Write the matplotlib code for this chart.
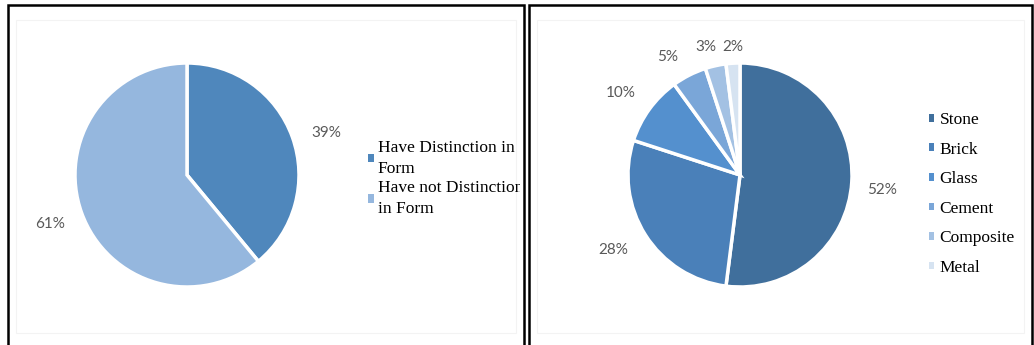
import matplotlib
matplotlib.use('Agg')
import matplotlib.pyplot as plt
from matplotlib.patches import Rectangle, Patch

# data
form_labels = ['Have Distinction in\nForm', 'Have not Distinction\nin Form']
form_values = [39, 61]
form_colors = ['#4F87BC', '#95B7DE']

material_labels = ['Stone', 'Brick', 'Glass', 'Cement', 'Composite', 'Metal']
material_values = [52, 28, 10, 5, 3, 2]
material_colors = ['#406F9C', '#4A80B9', '#5490CE', '#7AA6D8', '#A3C1E3', '#D6E3F1']

W, H = 1034, 345
R = 112  # pie radius in pixels
fig = plt.figure(figsize=(W / 100, H / 100), dpi=100)


def px_axes(cx, cy, r):
    # axes square around pie center, given in pixels (y from top)
    return fig.add_axes([(cx - r) / W, 1 - (cy + r) / H, 2 * r / W, 2 * r / H])


def nudge(t, dx, dy):
    # shift a label by pixels (dy downwards)
    x, y = t.get_position()
    t.set_position((x + dx / R, y - dy / R))


pct_font = dict(fontsize=11, color='#595959', family='Lato')
leg_font = dict(family='Liberation Serif', size=12.5)

# ---- left panel ----
ax1 = px_axes(187, 175, R)
w1, t1 = ax1.pie(form_values, colors=form_colors, startangle=90, counterclock=False,
                 labels=[f'{v}%' for v in form_values], labeldistance=1.3,
                 wedgeprops=dict(edgecolor='white', linewidth=2.5), textprops=pct_font)
for t in t1:
    t.set_ha('center')
nudge(t1[0], 2, 7)
ax1.set_xlim(-1, 1)
ax1.set_ylim(-1, 1)

h1 = [Patch(facecolor=c, edgecolor='none') for c in form_colors]
leg1 = fig.legend(h1, form_labels, loc='upper left', bbox_to_anchor=(368 / W, 1 - 140 / H),
                  frameon=False, prop=leg_font, handlelength=0.35, handleheight=0.35,
                  handletextpad=0.2, labelspacing=0.2, borderpad=0, borderaxespad=0)
clip1 = Rectangle((0, 0), 520 / W, 1, transform=fig.transFigure, visible=False)
fig.add_artist(clip1)
for t in leg1.get_texts():
    t.set_clip_path(clip1)
    t.set_linespacing(1.4)

# ---- right panel ----
ax2 = px_axes(740, 175, R)
w2, t2 = ax2.pie(material_values, colors=material_colors, startangle=90, counterclock=False,
                 labels=[f'{v}%' for v in material_values], labeldistance=1.28,
                 wedgeprops=dict(edgecolor='white', linewidth=2.5), textprops=pct_font)
for t, (dx, dy) in zip(t2, [(-1, 6), (-6, -2), (-3, 2), (-7, 10), (-3, 12), (2, 15)]):
    t.set_ha('center')
    nudge(t, dx, dy)
ax2.set_xlim(-1, 1)
ax2.set_ylim(-1, 1)

h2 = [Patch(facecolor=c, edgecolor='none') for c in material_colors]
fig.legend(h2, material_labels, loc='upper left', bbox_to_anchor=(929 / W, 1 - 112 / H),
           frameon=False, prop=leg_font, handlelength=0.3, handleheight=0.3,
           handletextpad=0.3, labelspacing=0.78, borderpad=0, borderaxespad=0)

# panel borders
for x0, x1 in [(8, 524), (529, 1032)]:
    fig.add_artist(Rectangle((x0 / W, -0.05), (x1 - x0) / W, 1 - 5 / H + 0.05,
                             transform=fig.transFigure, fill=False,
                             edgecolor='black', linewidth=1.8))
    fig.add_artist(Rectangle(((x0 + 8) / W, 12 / H), (x1 - x0 - 16) / W, 1 - 32 / H,
                             transform=fig.transFigure, fill=False,
                             edgecolor='#F3F3F3', linewidth=0.8))

fig.savefig('out.png', dpi=100)
